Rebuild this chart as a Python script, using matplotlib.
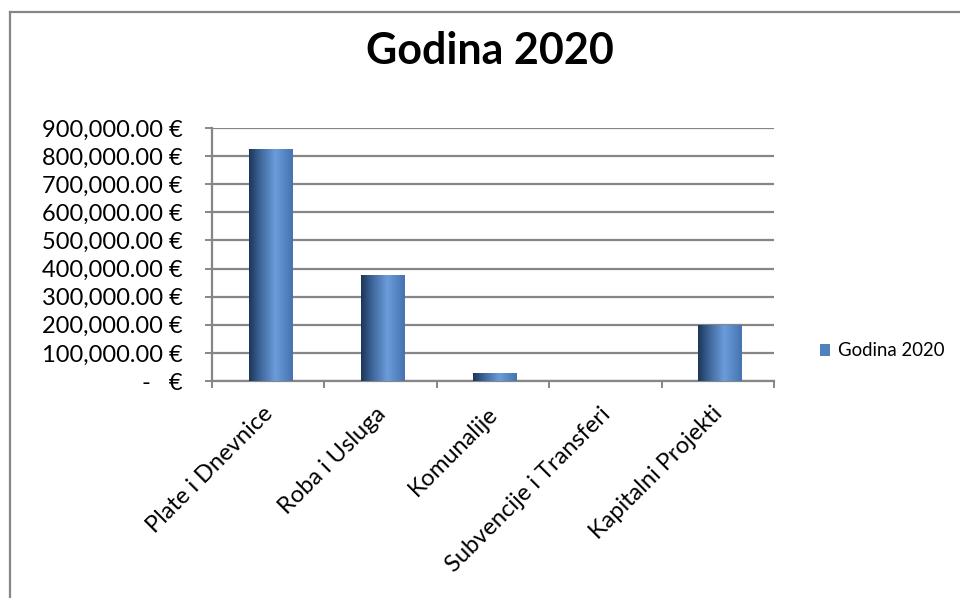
import matplotlib

matplotlib.use("Agg")
import matplotlib.pyplot as plt
import matplotlib.transforms as mtransforms
import numpy as np
from matplotlib.colors import LinearSegmentedColormap
from matplotlib.lines import Line2D
from matplotlib.patches import Patch

plt.rcParams["font.family"] = ["Lato", "DejaVu Sans"]

categories = ["Plate i Dnevnice", "Roba i Usluga", "Komunalije", "Subvencije i Transferi", "Kapitalni Projekti"]
values = [822000, 376000, 28000, 0, 198000]
series_name = "Godina 2020"
y_ticks = [0, 100000, 200000, 300000, 400000, 500000, 600000, 700000, 800000, 900000]


def euro_label(v):
    if v == 0:
        return "-   €"
    return f"{v:,.2f} €"


W, H = 960, 598
fig = plt.figure(figsize=(W / 100, H / 100), dpi=100)
ax = fig.add_axes([212 / W, 1 - 381 / H, (774 - 212) / W, (381 - 128) / H])

grid_color = "#868686"
bar_cmap = LinearSegmentedColormap.from_list(
    "cyl", [(0.0, "#1d3657"), (0.25, "#3d6599"), (0.6, "#6b9cdb"), (1.0, "#4573b0")]
)
grad = np.linspace(0, 1, 256).reshape(1, -1)
width = 0.39

for i, v in enumerate(values):
    if v <= 0:
        continue
    x0 = i - width / 2
    ax.imshow(grad, cmap=bar_cmap, aspect="auto", extent=[x0 + 0.02, x0 + 0.02 + width, 0, v],
              origin="lower", zorder=3, interpolation="bilinear")

ax.set_xlim(-0.5, len(categories) - 0.5)
ax.set_ylim(0, 900000)

for t in y_ticks:
    ax.axhline(t, color=grid_color, lw=1.6, zorder=1)

ax.set_yticks(y_ticks)
ax.set_yticklabels([euro_label(t) for t in y_ticks], fontsize=17)
ax.set_xticks(np.arange(len(categories) + 1) - 0.5)
ax.set_xticklabels([])
ax.set_xticks(np.arange(len(categories)), minor=True)
ax.set_xticklabels(categories, minor=True, rotation=45, ha="right", rotation_mode="anchor", fontsize=17)
ax.tick_params(axis="x", which="minor", length=0, pad=16)
ax.tick_params(axis="x", which="major", length=5, width=1.4, color=grid_color, direction="out")
ax.tick_params(axis="y", length=5, width=1.4, color=grid_color, direction="out", pad=16)

# nudge category labels a little to the left
shift = mtransforms.ScaledTranslation(-6 / 100, 0, fig.dpi_scale_trans)
for lbl in ax.get_xticklabels(minor=True):
    lbl.set_transform(lbl.get_transform() + shift)

for s in ["top", "right"]:
    ax.spines[s].set_visible(False)
ax.spines["left"].set_color(grid_color)
ax.spines["left"].set_linewidth(1.6)
ax.spines["bottom"].set_color(grid_color)
ax.spines["bottom"].set_linewidth(1.6)

fig.text(490 / W, 1 - 51 / H, "Godina 2020", ha="center", va="center", fontsize=31, fontweight="bold")

fig.legend(handles=[Patch(facecolor="#4f81bd", label=series_name)], loc="center left",
           bbox_to_anchor=(820 / W, 1 - 351 / H), frameon=False, fontsize=13.4,
           handlelength=0.55, handleheight=0.55, handletextpad=0.4, borderpad=0, borderaxespad=0)

fig.add_artist(Line2D([10 / W, 10 / W], [0, 1 - 12 / H], color=grid_color, lw=1.6))
fig.add_artist(Line2D([10 / W, 1], [1 - 12 / H, 1 - 12 / H], color=grid_color, lw=1.6))

fig.savefig("out.png", dpi=100)
